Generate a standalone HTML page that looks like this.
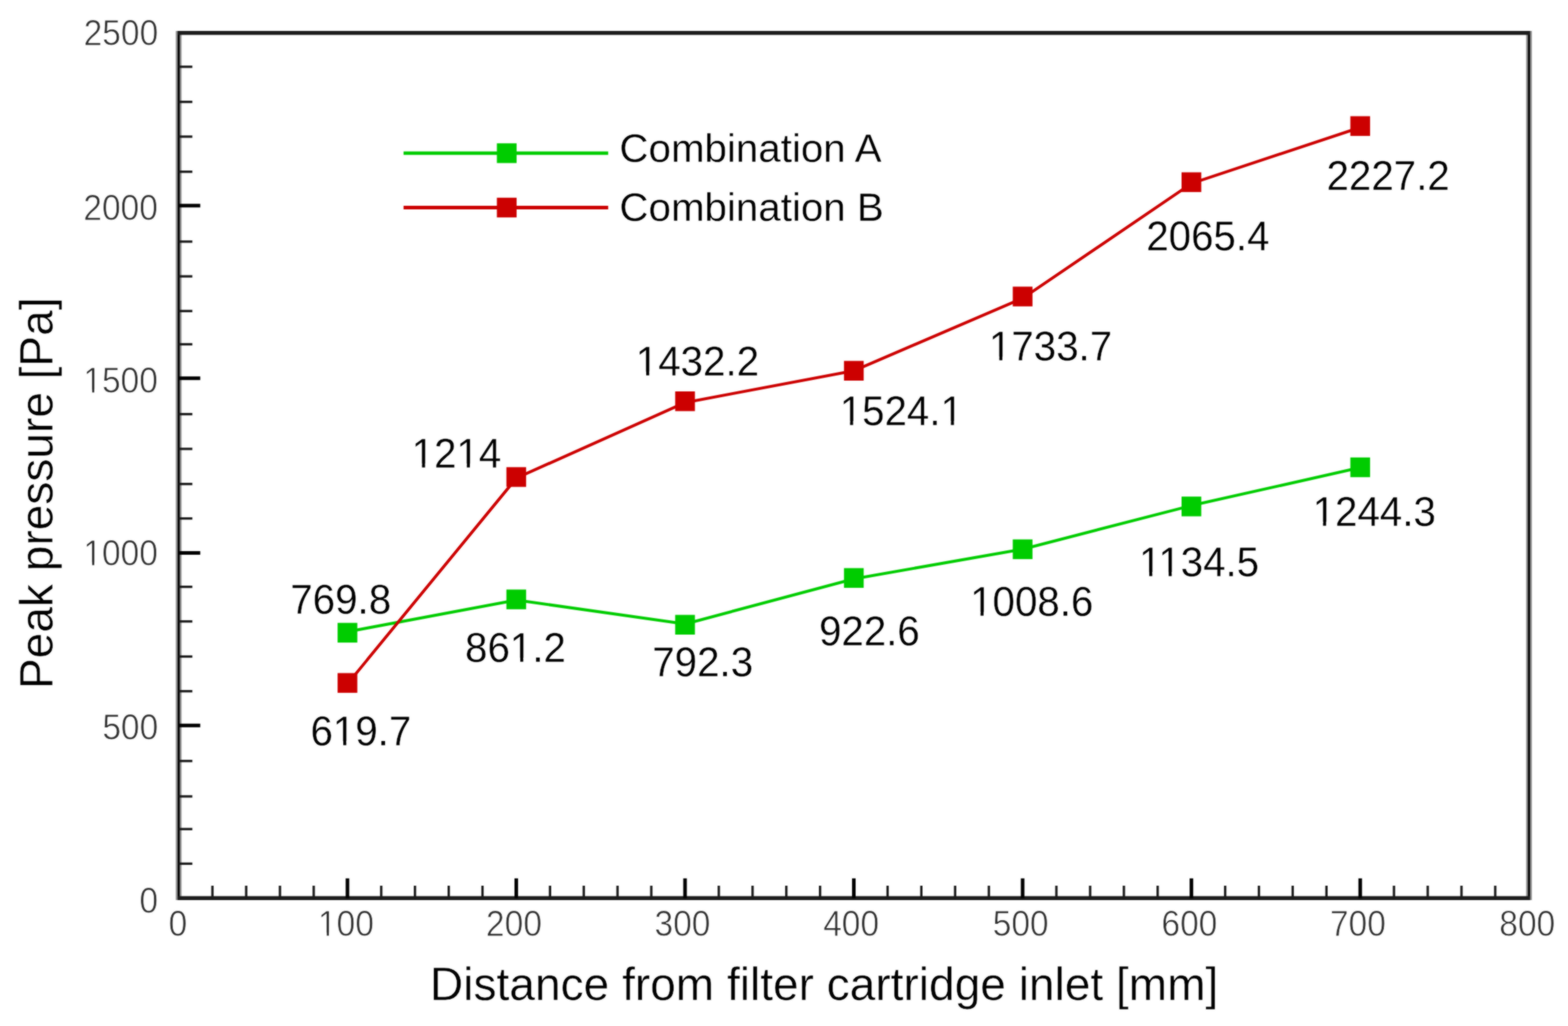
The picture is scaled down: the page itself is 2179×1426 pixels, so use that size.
<!DOCTYPE html>
<html lang="en"><head><meta charset="utf-8"><title>Peak pressure vs distance from filter cartridge inlet</title>
<style>
html,body{margin:0;padding:0;background:#fff;}
body{width:2179px;height:1426px;overflow:hidden;}
svg{display:block;font-family:"Liberation Sans",sans-serif;}
.tl{font-size:46.6px;fill:#303030;stroke:#fff;stroke-width:0.8;stroke-linejoin:round;}
.dl{font-size:56px;fill:#000;stroke:#fff;stroke-width:0.35;stroke-linejoin:round;}
.at{font-size:64px;fill:#000;stroke:#fff;stroke-width:0.5;stroke-linejoin:round;}
.lg{font-size:56px;fill:#000;stroke:#fff;stroke-width:0.4;stroke-linejoin:round;}
</style></head><body>
<svg width="2179" height="1426" viewBox="0 0 2179 1426">
<rect width="2179" height="1426" fill="#fff"/>
<defs><filter id="soft" x="0" y="0" width="2179" height="1426" filterUnits="userSpaceOnUse" color-interpolation-filters="sRGB"><feGaussianBlur stdDeviation="1" result="b"/><feComposite in="SourceGraphic" in2="b" operator="arithmetic" k1="0" k2="0.4" k3="0.6" k4="0"/></filter></defs>
<g filter="url(#soft)">
<rect width="2179" height="1426" fill="#fff"/>
<g fill="none" stroke-linecap="butt">
<line x1="248.3" y1="43" x2="248.3" y2="1251.1" stroke="#909090" stroke-width="8"/>
<line x1="248.3" y1="43" x2="248.3" y2="1251.1" stroke="#000" stroke-width="2.8"/>
<line x1="2124.8" y1="43" x2="2124.8" y2="1251.1" stroke="#909090" stroke-width="8"/>
<line x1="2124.8" y1="43" x2="2124.8" y2="1251.1" stroke="#000" stroke-width="2.8"/>
<line x1="246.9" y1="1248.3" x2="2126.2" y2="1248.3" stroke="#1c1c1c" stroke-width="5.6"/>
<line x1="246.9" y1="45.8" x2="2126.2" y2="45.8" stroke="#1c1c1c" stroke-width="5.6"/>
</g>
<g stroke="#1a1a1a" stroke-width="3.3" fill="none">
<line x1="295.21" y1="1248.3" x2="295.21" y2="1231"/>
<line x1="342.12" y1="1248.3" x2="342.12" y2="1231"/>
<line x1="389.04" y1="1248.3" x2="389.04" y2="1231"/>
<line x1="435.95" y1="1248.3" x2="435.95" y2="1231"/>
<line x1="529.78" y1="1248.3" x2="529.78" y2="1231"/>
<line x1="576.69" y1="1248.3" x2="576.69" y2="1231"/>
<line x1="623.6" y1="1248.3" x2="623.6" y2="1231"/>
<line x1="670.51" y1="1248.3" x2="670.51" y2="1231"/>
<line x1="764.34" y1="1248.3" x2="764.34" y2="1231"/>
<line x1="811.25" y1="1248.3" x2="811.25" y2="1231"/>
<line x1="858.16" y1="1248.3" x2="858.16" y2="1231"/>
<line x1="905.08" y1="1248.3" x2="905.08" y2="1231"/>
<line x1="998.9" y1="1248.3" x2="998.9" y2="1231"/>
<line x1="1045.81" y1="1248.3" x2="1045.81" y2="1231"/>
<line x1="1092.73" y1="1248.3" x2="1092.73" y2="1231"/>
<line x1="1139.64" y1="1248.3" x2="1139.64" y2="1231"/>
<line x1="1233.46" y1="1248.3" x2="1233.46" y2="1231"/>
<line x1="1280.38" y1="1248.3" x2="1280.38" y2="1231"/>
<line x1="1327.29" y1="1248.3" x2="1327.29" y2="1231"/>
<line x1="1374.2" y1="1248.3" x2="1374.2" y2="1231"/>
<line x1="1468.03" y1="1248.3" x2="1468.03" y2="1231"/>
<line x1="1514.94" y1="1248.3" x2="1514.94" y2="1231"/>
<line x1="1561.85" y1="1248.3" x2="1561.85" y2="1231"/>
<line x1="1608.76" y1="1248.3" x2="1608.76" y2="1231"/>
<line x1="1702.59" y1="1248.3" x2="1702.59" y2="1231"/>
<line x1="1749.5" y1="1248.3" x2="1749.5" y2="1231"/>
<line x1="1796.41" y1="1248.3" x2="1796.41" y2="1231"/>
<line x1="1843.33" y1="1248.3" x2="1843.33" y2="1231"/>
<line x1="1937.15" y1="1248.3" x2="1937.15" y2="1231"/>
<line x1="1984.06" y1="1248.3" x2="1984.06" y2="1231"/>
<line x1="2030.98" y1="1248.3" x2="2030.98" y2="1231"/>
<line x1="2077.89" y1="1248.3" x2="2077.89" y2="1231"/>
<line x1="248.3" y1="1200.4" x2="267.3" y2="1200.4"/>
<line x1="248.3" y1="1152.3" x2="267.3" y2="1152.3"/>
<line x1="248.3" y1="1106.9" x2="267.3" y2="1106.9"/>
<line x1="248.3" y1="1057.7" x2="267.3" y2="1057.7"/>
<line x1="248.3" y1="960.7" x2="267.3" y2="960.7"/>
<line x1="248.3" y1="912.5" x2="267.3" y2="912.5"/>
<line x1="248.3" y1="863.7" x2="267.3" y2="863.7"/>
<line x1="248.3" y1="815.6" x2="267.3" y2="815.6"/>
<line x1="248.3" y1="720.6" x2="267.3" y2="720.6"/>
<line x1="248.3" y1="672.7" x2="267.3" y2="672.7"/>
<line x1="248.3" y1="623.9" x2="267.3" y2="623.9"/>
<line x1="248.3" y1="575.6" x2="267.3" y2="575.6"/>
<line x1="248.3" y1="478.5" x2="267.3" y2="478.5"/>
<line x1="248.3" y1="432.3" x2="267.3" y2="432.3"/>
<line x1="248.3" y1="384.1" x2="267.3" y2="384.1"/>
<line x1="248.3" y1="335.8" x2="267.3" y2="335.8"/>
<line x1="248.3" y1="238.7" x2="267.3" y2="238.7"/>
<line x1="248.3" y1="189.9" x2="267.3" y2="189.9"/>
<line x1="248.3" y1="141.6" x2="267.3" y2="141.6"/>
<line x1="248.3" y1="92.8" x2="267.3" y2="92.8"/>
</g>
<g stroke="#000" stroke-width="5" fill="none">
<line x1="482.86" y1="1248.3" x2="482.86" y2="1220.8"/>
<line x1="717.43" y1="1248.3" x2="717.43" y2="1220.8"/>
<line x1="951.99" y1="1248.3" x2="951.99" y2="1220.8"/>
<line x1="1186.55" y1="1248.3" x2="1186.55" y2="1220.8"/>
<line x1="1421.11" y1="1248.3" x2="1421.11" y2="1220.8"/>
<line x1="1655.68" y1="1248.3" x2="1655.68" y2="1220.8"/>
<line x1="1890.24" y1="1248.3" x2="1890.24" y2="1220.8"/>
<line x1="248.3" y1="1008.3" x2="278.3" y2="1008.3"/>
<line x1="248.3" y1="768.5" x2="278.3" y2="768.5"/>
<line x1="248.3" y1="525.7" x2="278.3" y2="525.7"/>
<line x1="248.3" y1="285.8" x2="278.3" y2="285.8"/>
</g>
<text class="tl" text-anchor="middle" transform="translate(206.8 1268.7) scale(1 1.06)">0</text>
<text class="tl" text-anchor="middle" transform="translate(181 1028.3) scale(1 1.06)">500</text>
<text class="tl" text-anchor="middle" transform="translate(167.6 786.3) scale(1 1.06)">1000</text>
<text class="tl" text-anchor="middle" transform="translate(167.6 546.1) scale(1 1.06)">1500</text>
<text class="tl" text-anchor="middle" transform="translate(167.6 306) scale(1 1.06)">2000</text>
<text class="tl" text-anchor="middle" transform="translate(168 63) scale(1 1.06)">2500</text>
<text class="tl" text-anchor="middle" transform="translate(247.2 1301.1) scale(1 1.06)">0</text>
<text class="tl" text-anchor="middle" transform="translate(480.7 1301.1) scale(1 1.06)">100</text>
<text class="tl" text-anchor="middle" transform="translate(714.2 1301.1) scale(1 1.06)">200</text>
<text class="tl" text-anchor="middle" transform="translate(948.4 1301.1) scale(1 1.06)">300</text>
<text class="tl" text-anchor="middle" transform="translate(1182.8 1301.1) scale(1 1.06)">400</text>
<text class="tl" text-anchor="middle" transform="translate(1418.4 1301.1) scale(1 1.06)">500</text>
<text class="tl" text-anchor="middle" transform="translate(1652.9 1301.1) scale(1 1.06)">600</text>
<text class="tl" text-anchor="middle" transform="translate(1887 1301.1) scale(1 1.06)">700</text>
<text class="tl" text-anchor="middle" transform="translate(2122.4 1301.1) scale(1 1.06)">800</text>
<g fill="#fff">
<rect x="117.82" y="781.41" width="10.27" height="6.29"/>
<rect x="131" y="781.41" width="9.9" height="6.29"/>
<rect x="117.82" y="541.21" width="10.27" height="6.29"/>
<rect x="131" y="541.21" width="9.9" height="6.29"/>
<rect x="443.87" y="1296.21" width="10.27" height="6.29"/>
<rect x="457.06" y="1296.21" width="9.9" height="6.29"/>
</g>
<text class="at" x="597.6" y="1390.3">Distance from filter cartridge inlet [mm]</text>
<text class="at" transform="translate(72.6 957.6) rotate(-90)">Peak pressure [Pa]</text>
<polyline points="483.16,878.03 717.73,834.06 952.29,867.2 1186.85,804.53 1421.41,763.16 1655.98,702.61 1890.54,649.79" fill="none" stroke="#00cc00" stroke-width="4.1" stroke-linejoin="round"/>
<rect x="469.16" y="865.7" width="27.4" height="27.4" fill="#00cc00"/>
<rect x="703.73" y="819.4" width="27.4" height="27.4" fill="#00cc00"/>
<rect x="938.29" y="854.6" width="27.4" height="27.4" fill="#00cc00"/>
<rect x="1172.85" y="789.6" width="27.4" height="27.4" fill="#00cc00"/>
<rect x="1407.41" y="749.7" width="27.4" height="27.4" fill="#00cc00"/>
<rect x="1641.98" y="690.2" width="27.4" height="27.4" fill="#00cc00"/>
<rect x="1876.54" y="635.8" width="27.4" height="27.4" fill="#00cc00"/>
<polyline points="483.16,950.22 717.73,664.37 952.29,559.41 1186.85,515.21 1421.41,414.39 1655.98,254.84 1890.54,177.02" fill="none" stroke="#cc0000" stroke-width="4.1" stroke-linejoin="round"/>
<rect x="469.16" y="935.5" width="27.4" height="27.4" fill="#cc0000"/>
<rect x="703.73" y="649.3" width="27.4" height="27.4" fill="#cc0000"/>
<rect x="938.29" y="544" width="27.4" height="27.4" fill="#cc0000"/>
<rect x="1172.85" y="501.6" width="27.4" height="27.4" fill="#cc0000"/>
<rect x="1407.41" y="398.4" width="27.4" height="27.4" fill="#cc0000"/>
<rect x="1641.98" y="239.5" width="27.4" height="27.4" fill="#cc0000"/>
<rect x="1876.54" y="161.5" width="27.4" height="27.4" fill="#cc0000"/>
<line x1="560.8" y1="212.9" x2="845.2" y2="212.9" stroke="#00cc00" stroke-width="4.8"/>
<rect x="690.5" y="199.2" width="27.4" height="27.4" fill="#00cc00"/>
<text class="lg" x="860.8" y="225.2">Combination A</text>
<line x1="560.8" y1="288.5" x2="845.2" y2="288.5" stroke="#cc0000" stroke-width="4.8"/>
<rect x="690.5" y="274.8" width="27.4" height="27.4" fill="#cc0000"/>
<text class="lg" x="860.8" y="306.6">Combination B</text>
<text class="dl" text-anchor="middle" transform="translate(473.5 853) scale(1 1.03)">769.8</text>
<text class="dl" text-anchor="middle" transform="translate(716.3 919.8) scale(1 1.03)">861.2</text>
<text class="dl" text-anchor="middle" transform="translate(976.5 939.8) scale(1 1.03)">792.3</text>
<text class="dl" text-anchor="middle" transform="translate(1208.2 896.8) scale(1 1.03)">922.6</text>
<text class="dl" text-anchor="middle" transform="translate(1433.8 856.1) scale(1 1.03)">1008.6</text>
<text class="dl" text-anchor="middle" transform="translate(1666.2 800.6) scale(1 1.03)">1134.5</text>
<text class="dl" text-anchor="middle" transform="translate(1909.8 730.6) scale(1 1.03)">1244.3</text>
<text class="dl" text-anchor="middle" transform="translate(501.5 1035.6) scale(1 1.03)">619.7</text>
<text class="dl" text-anchor="middle" transform="translate(634.3 649.9) scale(1 1.03)">1214</text>
<text class="dl" text-anchor="middle" transform="translate(969.2 522) scale(1 1.03)">1432.2</text>
<text class="dl" text-anchor="middle" transform="translate(1252.5 590.8) scale(1 1.03)">1524.1</text>
<text class="dl" text-anchor="middle" transform="translate(1459.9 501.2) scale(1 1.03)">1733.7</text>
<text class="dl" text-anchor="middle" transform="translate(1678.5 347.6) scale(1 1.03)">2065.4</text>
<text class="dl" text-anchor="middle" transform="translate(1929 263.8) scale(1 1.03)">2227.2</text>
<g fill="#fff">
<rect x="711.29" y="914.29" width="11.69" height="6.91"/>
<rect x="727.18" y="914.29" width="11.25" height="6.91"/>
<rect x="1350.92" y="850.59" width="11.69" height="6.91"/>
<rect x="1366.82" y="850.59" width="11.25" height="6.91"/>
<rect x="1585.4" y="795.09" width="11.69" height="6.91"/>
<rect x="1601.29" y="795.09" width="11.25" height="6.91"/>
<rect x="1612.39" y="795.09" width="11.69" height="6.91"/>
<rect x="1628.28" y="795.09" width="11.25" height="6.91"/>
<rect x="1826.92" y="725.09" width="11.69" height="6.91"/>
<rect x="1842.82" y="725.09" width="11.25" height="6.91"/>
<rect x="465.34" y="1030.09" width="11.69" height="6.91"/>
<rect x="481.23" y="1030.09" width="11.25" height="6.91"/>
<rect x="574.78" y="644.39" width="11.69" height="6.91"/>
<rect x="590.67" y="644.39" width="11.25" height="6.91"/>
<rect x="637.07" y="644.39" width="11.69" height="6.91"/>
<rect x="652.96" y="644.39" width="11.25" height="6.91"/>
<rect x="886.33" y="516.49" width="11.69" height="6.91"/>
<rect x="902.22" y="516.49" width="11.25" height="6.91"/>
<rect x="1169.62" y="585.29" width="11.69" height="6.91"/>
<rect x="1185.52" y="585.29" width="11.25" height="6.91"/>
<rect x="1309.76" y="585.29" width="11.69" height="6.91"/>
<rect x="1325.65" y="585.29" width="11.25" height="6.91"/>
<rect x="1377.03" y="495.69" width="11.69" height="6.91"/>
<rect x="1392.92" y="495.69" width="11.25" height="6.91"/>
</g>
</g>
</svg></body></html>
